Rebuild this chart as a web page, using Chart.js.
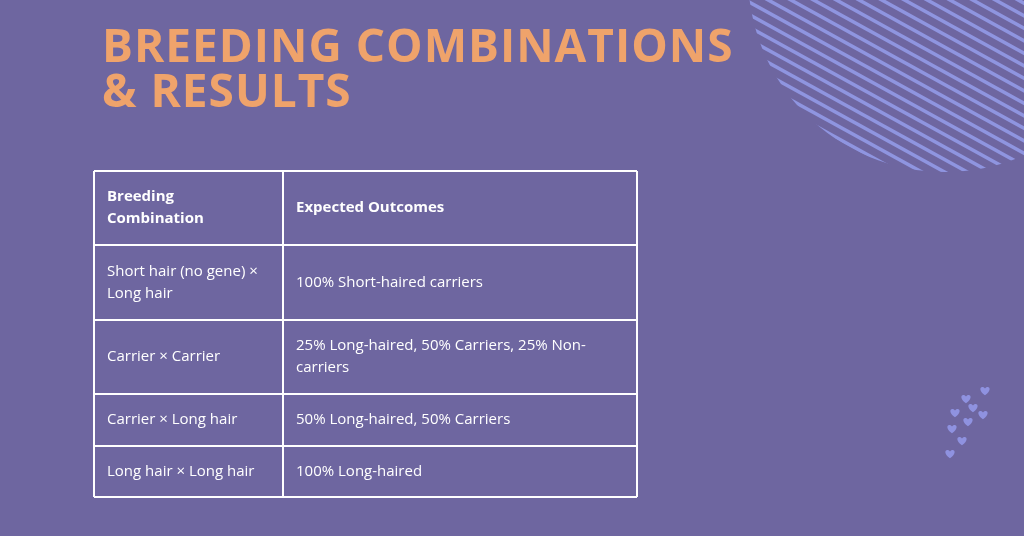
<!DOCTYPE html>
<html>
<head>
<meta charset="utf-8">
<script src="https://cdn.jsdelivr.net/npm/chart.js@4/dist/chart.umd.min.js"></script>
<style>
  html, body { margin: 0; padding: 0; background: #6E66A0; }
  #wrap { width: 1024px; height: 536px; }
</style>
</head>
<body>
<div id="wrap"><canvas id="tabla"></canvas></div>
<script>
// --- DATOS ---
const titleLines = ['BREEDING COMBINATIONS', '& RESULTS'];
const headers = [['Breeding', 'Combination'], ['Expected Outcomes']];
const combinations = [
  ['Short hair (no gene) ×', 'Long hair'],
  ['Carrier × Carrier'],
  ['Carrier × Long hair'],
  ['Long hair × Long hair']
];
const outcomes = [
  ['100% Short-haired carriers'],
  ['25% Long-haired, 50% Carriers, 25% Non-', 'carriers'],
  ['50% Long-haired, 50% Carriers'],
  ['100% Long-haired']
];

// --- LAYOUT (coordenadas en unidades de la escala) ---
const colEdges = [94, 283, 637];
const rowEdges = [171, 245, 320, 394, 446, 497];
const heartPts = [[985, 390], [966, 398], [973, 407], [955, 412], [983, 414], [968, 421], [952, 428], [962, 440], [950, 453]];

const tablePlugin = {
  id: 'tablePlugin',
  beforeDraw(chart) {
    const { ctx, scales: { x, y } } = chart;
    const px = v => x.getPixelForValue(v);
    const py = v => y.getPixelForValue(v);
    ctx.save();
    ctx.fillStyle = '#6E66A0';
    ctx.fillRect(0, 0, chart.width, chart.height);

    // círculo rayado
    ctx.save();
    ctx.beginPath();
    ctx.arc(px(945), py(-25), x.getPixelForValue(197) - x.getPixelForValue(0), 0, Math.PI * 2);
    ctx.clip();
    ctx.strokeStyle = '#8F95E0';
    ctx.lineWidth = 3.5;
    for (let k = -400; k < 300; k += 12.5) {
      ctx.beginPath();
      ctx.moveTo(px(700), py(k));
      ctx.lineTo(px(1100), py(k + 220));
      ctx.stroke();
    }
    ctx.restore();

    // corazones
    ctx.fillStyle = '#8F92E0';
    heartPts.forEach(([hx, hy]) => {
      const cx = px(hx), cy = py(hy), s = 4;
      ctx.beginPath();
      ctx.moveTo(cx, cy + s * 1.3);
      ctx.bezierCurveTo(cx - s * 2, cy, cx - s, cy - s * 1.4, cx, cy - s * 0.4);
      ctx.bezierCurveTo(cx + s, cy - s * 1.4, cx + s * 2, cy, cx, cy + s * 1.3);
      ctx.fill();
    });

    // título
    ctx.fillStyle = '#EFA36B';
    ctx.font = 'bold 46px "Open Sans"';
    ctx.textBaseline = 'alphabetic';
    if ('letterSpacing' in ctx) ctx.letterSpacing = '1px';
    titleLines.forEach((t, i) => ctx.fillText(t, px(102), py(62 + i * 45)));
    if ('letterSpacing' in ctx) ctx.letterSpacing = '0px';

    // rejilla
    ctx.strokeStyle = '#FFFFFF';
    ctx.lineWidth = 2;
    rowEdges.forEach(r => {
      ctx.beginPath(); ctx.moveTo(px(colEdges[0]), py(r)); ctx.lineTo(px(colEdges[2]), py(r)); ctx.stroke();
    });
    colEdges.forEach(c => {
      ctx.beginPath(); ctx.moveTo(px(c), py(rowEdges[0])); ctx.lineTo(px(c), py(rowEdges[rowEdges.length - 1])); ctx.stroke();
    });

    // texto
    const rows = [headers].concat(combinations.map((c, i) => [c, outcomes[i]]));
    ctx.fillStyle = '#FFFFFF';
    ctx.textBaseline = 'middle';
    rows.forEach((row, ri) => {
      ctx.font = (ri === 0 ? 'bold ' : '') + '15px "Open Sans"';
      const mid = (rowEdges[ri] + rowEdges[ri + 1]) / 2;
      row.forEach((lines, ci) => {
        const top = mid - (lines.length - 1) * 11;
        lines.forEach((ln, li) => ctx.fillText(ln, px(colEdges[ci] + 13), py(top + li * 22)));
      });
    });
    ctx.restore();
  }
};

new Chart(document.getElementById('tabla'), {
  type: 'scatter',
  data: { datasets: [{ data: [] }] },
  options: {
    responsive: true,
    maintainAspectRatio: false,
    animation: false,
    layout: { padding: 0 },
    plugins: { legend: { display: false }, tooltip: { enabled: false } },
    scales: {
      x: { type: 'linear', min: 0, max: 1024, display: false },
      y: { type: 'linear', min: 0, max: 536, reverse: true, display: false }
    }
  },
  plugins: [tablePlugin]
});
</script>
</body>
</html>
